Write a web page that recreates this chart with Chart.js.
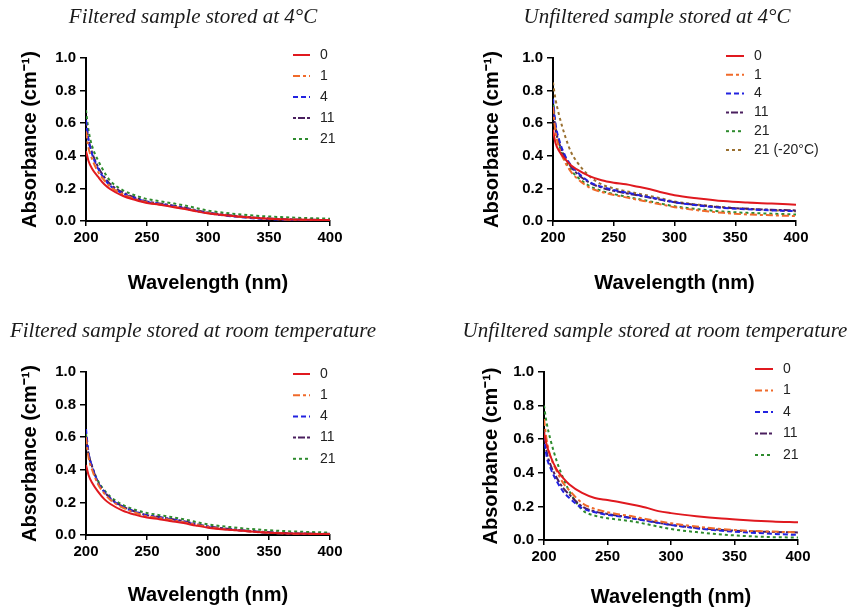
<!DOCTYPE html>
<html>
<head>
<meta charset="utf-8">
<script src="https://cdn.jsdelivr.net/npm/chart.js@4.4.0/dist/chart.umd.min.js"></script>
<style>
  body { margin: 0; background: #fff; }
  .panel { position: absolute; }
</style>
</head>
<body>
<div class="panel" style="left:0;top:0;width:428px;height:305px"><canvas id="c1"></canvas></div>
<div class="panel" style="left:428px;top:0;width:427px;height:305px"><canvas id="c2"></canvas></div>
<div class="panel" style="left:0;top:305px;width:428px;height:304px"><canvas id="c3"></canvas></div>
<div class="panel" style="left:428px;top:305px;width:427px;height:304px"><canvas id="c4"></canvas></div>
<script>
// wavelength grid (nm)
const wavelengths = [200, 202, 205, 210, 215, 220, 230, 240, 250, 260, 270, 280, 290, 300, 320, 340, 360, 380, 400];

const panelTitles = [
  "Filtered sample stored at 4°C",
  "Unfiltered sample stored at 4°C",
  "Filtered sample stored at room temperature",
  "Unfiltered sample stored at room temperature"
];
const dayLabels = ["0", "1", "4", "11", "21"];
const dayLabelsFrozen = ["0", "1", "4", "11", "21", "21 (-20°C)"];
const xTickValues = [200, 250, 300, 350, 400];
const yTickValues = [0, 0.2, 0.4, 0.6, 0.8, 1.0];
const xAxisTitle = "Wavelength (nm)";
const yAxisTitle = "Absorbance (cm⁻¹)";

// Filtered, 4°C
const filt4_d0  = [0.43, 0.37, 0.32, 0.27, 0.225, 0.195, 0.155, 0.13, 0.11, 0.10, 0.088, 0.075, 0.06, 0.047, 0.03, 0.018, 0.01, 0.007, 0.005];
const filt4_d1  = [0.55, 0.45, 0.38, 0.30, 0.25, 0.21, 0.165, 0.135, 0.113, 0.102, 0.09, 0.077, 0.062, 0.048, 0.03, 0.018, 0.01, 0.007, 0.005];
const filt4_d4  = [0.62, 0.50, 0.41, 0.32, 0.26, 0.215, 0.17, 0.14, 0.117, 0.105, 0.093, 0.08, 0.063, 0.048, 0.028, 0.015, 0.008, 0.006, 0.005];
const filt4_d11 = [0.60, 0.50, 0.42, 0.33, 0.27, 0.225, 0.175, 0.145, 0.12, 0.108, 0.096, 0.083, 0.067, 0.052, 0.033, 0.02, 0.012, 0.008, 0.006];
const filt4_d21 = [0.68, 0.56, 0.46, 0.37, 0.30, 0.245, 0.19, 0.158, 0.135, 0.122, 0.11, 0.097, 0.08, 0.064, 0.045, 0.032, 0.024, 0.018, 0.014];

// Unfiltered, 4°C
const unf4_d0   = [0.56, 0.48, 0.43, 0.38, 0.34, 0.315, 0.275, 0.25, 0.235, 0.225, 0.21, 0.195, 0.175, 0.158, 0.138, 0.122, 0.113, 0.107, 0.10];
const unf4_d1   = [0.70, 0.55, 0.45, 0.36, 0.30, 0.26, 0.205, 0.178, 0.16, 0.145, 0.13, 0.115, 0.10, 0.085, 0.065, 0.05, 0.04, 0.035, 0.03];
const unf4_d4   = [0.75, 0.60, 0.50, 0.40, 0.34, 0.30, 0.24, 0.21, 0.19, 0.175, 0.16, 0.145, 0.13, 0.115, 0.095, 0.08, 0.072, 0.065, 0.06];
const unf4_d11  = [0.70, 0.57, 0.48, 0.39, 0.33, 0.29, 0.235, 0.205, 0.185, 0.17, 0.157, 0.143, 0.128, 0.115, 0.097, 0.083, 0.075, 0.069, 0.065];
const unf4_d21  = [0.75, 0.58, 0.47, 0.37, 0.31, 0.27, 0.215, 0.185, 0.165, 0.15, 0.135, 0.12, 0.105, 0.09, 0.072, 0.058, 0.05, 0.045, 0.04];
const unf4_d21f = [0.85, 0.75, 0.65, 0.52, 0.42, 0.36, 0.275, 0.225, 0.20, 0.183, 0.168, 0.153, 0.137, 0.12, 0.10, 0.085, 0.075, 0.066, 0.06];

// Filtered, room temperature
const filtRT_d0  = [0.43, 0.37, 0.32, 0.265, 0.22, 0.19, 0.15, 0.125, 0.107, 0.097, 0.085, 0.073, 0.058, 0.045, 0.03, 0.018, 0.01, 0.007, 0.005];
const filtRT_d1  = [0.60, 0.48, 0.40, 0.31, 0.255, 0.215, 0.168, 0.138, 0.115, 0.104, 0.092, 0.079, 0.063, 0.049, 0.031, 0.018, 0.01, 0.007, 0.005];
const filtRT_d4  = [0.65, 0.51, 0.42, 0.32, 0.265, 0.222, 0.173, 0.142, 0.12, 0.108, 0.096, 0.082, 0.065, 0.05, 0.032, 0.018, 0.01, 0.007, 0.005];
const filtRT_d11 = [0.60, 0.50, 0.42, 0.32, 0.265, 0.225, 0.175, 0.145, 0.122, 0.11, 0.098, 0.085, 0.068, 0.053, 0.035, 0.022, 0.013, 0.009, 0.007];
const filtRT_d21 = [0.62, 0.50, 0.42, 0.33, 0.275, 0.235, 0.185, 0.155, 0.135, 0.122, 0.11, 0.097, 0.08, 0.065, 0.047, 0.034, 0.025, 0.019, 0.015];

// Unfiltered, room temperature
const unfRT_d0  = [0.64, 0.57, 0.50, 0.42, 0.37, 0.33, 0.28, 0.25, 0.238, 0.225, 0.21, 0.193, 0.172, 0.16, 0.142, 0.128, 0.118, 0.11, 0.105];
const unfRT_d1  = [0.72, 0.60, 0.50, 0.41, 0.34, 0.295, 0.22, 0.185, 0.165, 0.152, 0.14, 0.125, 0.112, 0.10, 0.08, 0.065, 0.055, 0.05, 0.045];
const unfRT_d4  = [0.62, 0.50, 0.43, 0.35, 0.29, 0.25, 0.19, 0.165, 0.15, 0.14, 0.128, 0.115, 0.102, 0.09, 0.07, 0.055, 0.045, 0.037, 0.03];
const unfRT_d11 = [0.65, 0.53, 0.45, 0.37, 0.31, 0.27, 0.20, 0.17, 0.155, 0.143, 0.13, 0.117, 0.103, 0.09, 0.072, 0.06, 0.052, 0.048, 0.045];
const unfRT_d21 = [0.80, 0.70, 0.60, 0.47, 0.37, 0.29, 0.18, 0.145, 0.13, 0.12, 0.11, 0.096, 0.08, 0.065, 0.047, 0.033, 0.023, 0.017, 0.015];

// line styles per series (0, 1, 4, 11, 21, 21 frozen)
const lineColors = ["#e0191f", "#f06a2a", "#2222e0", "#4a1f5e", "#2e8b2e", "#9a7030"];
const lineDashes = [[], [7, 3, 3, 3], [5, 3], [3, 2, 7, 2], [3, 3], [3, 3]];

const FONT = "'Liberation Sans', Arial, sans-serif";

// panel title drawn relative to the canvas
const panelTitlePlugin = {
  id: "panelTitle",
  afterDraw(chart, args, opts) {
    const ctx = chart.ctx;
    ctx.save();
    ctx.font = "italic 21px 'Liberation Serif', 'Times New Roman', serif";
    ctx.fillStyle = "#1a1a1a";
    ctx.textAlign = "center";
    ctx.textBaseline = "middle";
    ctx.fillText(opts.text, opts.x, opts.y);
    ctx.restore();
  }
};

// legend inside the plot, top right
const insideLegendPlugin = {
  id: "insideLegend",
  afterDraw(chart, args, opts) {
    const ctx = chart.ctx;
    ctx.save();
    ctx.font = "14px " + FONT;
    ctx.textBaseline = "middle";
    chart.data.datasets.forEach((ds, i) => {
      const y = opts.y + i * opts.step;
      ctx.strokeStyle = ds.borderColor;
      ctx.lineWidth = 2;
      ctx.setLineDash(ds.borderDash || []);
      ctx.beginPath();
      ctx.moveTo(opts.x, y);
      ctx.lineTo(opts.x + opts.len, y);
      ctx.stroke();
      ctx.setLineDash([]);
      ctx.fillStyle = "#222";
      ctx.fillText(ds.label, opts.x + opts.len + 10, y);
    });
    ctx.restore();
  }
};

function makeChart(canvasId, title, labels, series, geom) {
  const datasets = series.map((vals, i) => ({
    label: labels[i],
    data: wavelengths.map((w, k) => ({ x: w, y: vals[k] })),
    borderColor: lineColors[i],
    borderDash: lineDashes[i],
    borderWidth: 2,
    pointRadius: 0,
    fill: false,
    cubicInterpolationMode: "monotone"
  }));

  return new Chart(document.getElementById(canvasId).getContext("2d"), {
    type: "line",
    data: { datasets },
    plugins: [panelTitlePlugin, insideLegendPlugin],
    options: {
      responsive: true,
      maintainAspectRatio: false,
      animation: false,
      layout: { padding: geom.padding },
      plugins: {
        legend: { display: false },
        tooltip: { enabled: false },
        panelTitle: { text: title, x: geom.titleX, y: geom.titleY },
        insideLegend: geom.legend
      },
      scales: {
        x: {
          type: "linear",
          min: 200,
          max: 400,
          afterBuildTicks: s => { s.ticks = xTickValues.map(v => ({ value: v })); },
          afterFit: s => { s.height = geom.xHeight; },
          border: { color: "#000", width: 2 },
          grid: { display: true, drawOnChartArea: false, drawTicks: true, tickLength: 5, color: "#000", lineWidth: 1.5 },
          ticks: { padding: 3, color: "#000", font: { family: FONT, size: 15, weight: "bold" } },
          title: { display: true, text: xAxisTitle, color: "#000", padding: { top: 0, bottom: 0 },
                   font: { family: FONT, size: 20, weight: "bold" } }
        },
        y: {
          min: 0,
          max: 1,
          afterBuildTicks: s => { s.ticks = yTickValues.map(v => ({ value: v })); },
          afterFit: s => { s.width = geom.yWidth; },
          border: { color: "#000", width: 2 },
          grid: { display: true, drawOnChartArea: false, drawTicks: true, tickLength: 6, color: "#000", lineWidth: 1.5 },
          ticks: { padding: 4, color: "#000", font: { family: FONT, size: 15, weight: "bold" },
                   callback: v => v.toFixed(1) },
          title: { display: true, text: yAxisTitle, color: "#000", padding: { top: geom.yTitlePad, bottom: 0 },
                   font: { family: FONT, size: 20, weight: "bold" } }
        }
      }
    }
  });
}

makeChart("c1", panelTitles[0], dayLabels,
  [filt4_d0, filt4_d1, filt4_d4, filt4_d11, filt4_d21],
  { padding: { left: 0, top: 58, right: 98, bottom: 10 }, yWidth: 86, xHeight: 74, yTitlePad: 18,
    titleX: 193, titleY: 17, legend: { x: 293, y: 55, step: 21, len: 17 } });

makeChart("c2", panelTitles[1], dayLabelsFrozen,
  [unf4_d0, unf4_d1, unf4_d4, unf4_d11, unf4_d21, unf4_d21f],
  { padding: { left: 0, top: 58, right: 59, bottom: 10 }, yWidth: 125, xHeight: 74, yTitlePad: 52,
    titleX: 229, titleY: 17, legend: { x: 298, y: 56, step: 18.8, len: 18 } });

makeChart("c3", panelTitles[2], dayLabels,
  [filtRT_d0, filtRT_d1, filtRT_d4, filtRT_d11, filtRT_d21],
  { padding: { left: 0, top: 67, right: 98, bottom: 2 }, yWidth: 86, xHeight: 72, yTitlePad: 18,
    titleX: 193, titleY: 26, legend: { x: 293, y: 69, step: 21.2, len: 17 } });

makeChart("c4", panelTitles[3], dayLabels,
  [unfRT_d0, unfRT_d1, unfRT_d4, unfRT_d11, unfRT_d21],
  { padding: { left: 0, top: 67, right: 57, bottom: 0 }, yWidth: 116, xHeight: 69, yTitlePad: 51,
    titleX: 227, titleY: 26, legend: { x: 327, y: 64, step: 21.5, len: 18 } });
</script>
</body>
</html>
